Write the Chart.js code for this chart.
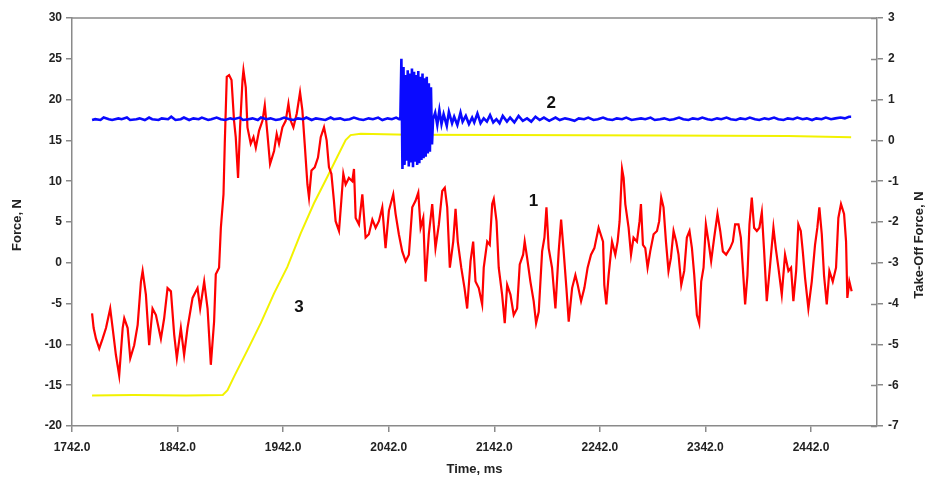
<!DOCTYPE html>
<html>
<head>
<meta charset="utf-8">
<script src="https://cdn.jsdelivr.net/npm/chart.js@4"></script>
<style>
  body { margin: 0; background: #fff; }
  #wrap { width: 929px; height: 481px; position: relative; }
</style>
</head>
<body>
<div id="wrap"><canvas id="forceChart"></canvas></div>
<script>
// Time axis ticks (ms) and axis ranges
const xTicks = [1742, 1842, 1942, 2042, 2142, 2242, 2342, 2442];
const timeRange = [1742, 2504.5];
const forceRange = [-20, 30];
const takeOffRange = [-7, 3];

// Curve 1 - force, N (left axis), [time, value]
const forceCurve = [
  [1761,-6.2],[1762.5,-8.0],[1764.7,-9.3],[1767.8,-10.5],[1771,-9.3],[1774.2,-8.0],[1778.2,-5.6],[1780.5,-8.0],
  [1783.6,-11.3],[1786.7,-13.8],[1790,-8.0],[1791.5,-6.8],[1794.7,-8.0],[1797.2,-11.7],[1800.9,-10.1],[1804.2,-7.6],
  [1807.3,-2.3],[1808.9,-1.0],[1812,-3.9],[1815.1,-10.1],[1818.3,-5.6],[1821.5,-6.4],[1826.2,-9.3],[1829.3,-6.8],
  [1832.5,-3.1],[1835.7,-3.5],[1838.8,-8.8],[1841.3,-11.7],[1845.1,-8.0],[1848.2,-11.3],[1851.4,-8.0],[1856.2,-4.3],
  [1860.9,-3.1],[1863.4,-5.6],[1867.2,-2.3],[1870.4,-5.6],[1873.5,-12.5],
  [1876.6,-7.2],[1878.2,-1.4],[1881.3,-0.6],[1883,4.3],[1885.5,8.4],[1886.7,14.6],[1888.6,22.8],[1890.8,23.0],
  [1893.1,22.4],[1895.5,17.4],[1897.1,15.4],[1899.3,10.4],[1901.2,16.6],[1903.5,22.4],[1904.4,23.6],[1906.6,21.5],
  [1908.2,16.6],[1911.3,14.6],[1913.9,15.4],[1916.1,14.1],[1919.2,16.2],[1922.4,17.4],[1924.6,19.3],[1927.1,15.8],
  [1929.6,12.1],[1933.4,13.7],[1935.9,15.8],[1938.1,14.6],[1941.3,16.6],[1944.4,17.4],[1947,19.5],[1949.2,17.4],
  [1951.7,16.6],[1954.9,18.3],[1958,20.9],[1960.2,18.7],[1962.4,14.6],[1965,9.6],[1966.5,8.0],[1968.8,11.3],
  [1971.9,11.7],[1975,12.9],[1977.6,15.4],[1980.7,16.6],[1983.2,15.0],[1985.4,11.7],[1987.7,10.9],[1990.1,7.6],
  [1991.7,5.1],[1994.9,3.9],[1997.1,7.6],[1999,10.9],[2001.2,9.6],
  [2004.3,10.4],[2007.5,10.0],[2009.1,11.5],[2010.7,5.5],[2013.8,4.7],[2017,8.4],[2020.1,3.1],[2023.2,3.5],
  [2026.5,5.3],[2029.6,4.3],[2032.7,5.1],[2035.9,6.8],[2039,1.8],[2042.2,6.4],[2046.3,8.4],[2048.5,6.0],
  [2051.6,3.5],[2054.8,1.4],[2058,0.2],[2061.1,1.0],[2064.3,6.8],[2067.4,7.6],[2070,8.6],[2072.2,4.3],
  [2074.7,5.5],[2076.9,-2.3],[2080,3.5],[2083.2,7.2],[2086.3,1.8],[2089.5,4.7],[2092.7,8.8],[2095.1,9.2],
  [2097.4,6.8],[2099.9,-0.6],[2103.1,2.6],[2105.3,6.6],[2107.4,2.6],[2110.7,-0.6],[2113.8,-3.1],[2116.3,-5.6],
  [2119.5,0.2],[2122,2.6],[2124.2,-2.3],[2127.3,-3.1],[2130.5,-5.1],[2132,-0.6],[2135.3,2.6],[2137.7,2.2],
  [2140,7.2],[2141.5,7.8],[2144.1,5.1],[2146.2,-0.6],[2149.4,-3.9],[2151.9,-7.4],[2154.2,-2.7],[2157.3,-3.9],
  [2160.4,-6.4],[2163.6,-5.6],[2166.1,-0.2],[2169.3,1.0],[2170.8,2.6],[2173.1,0.6],[2176.2,-2.3],[2179.3,-4.7],
  [2181.6,-7.4],[2184.1,-6.0],[2187.3,1.4],[2189.5,3.1],[2191.4,6.8],[2193.5,1.8],[2196.7,-0.6],[2199.9,-5.6],
  [2203,1.4],[2205.3,5.3],[2207.7,1.4],[2210.3,-3.1],[2212.5,-7.2],[2215.7,-3.1],[2218.8,-1.5],[2221,-2.7],
  [2224.2,-4.7],[2227.3,-3.1],[2230.4,-0.6],[2233.6,1.0],[2236.8,1.8],[2240.8,4.3],
  [2245,2.6],[2246.2,-2.7],[2248.1,-5.1],[2250.3,-1.5],[2253.5,2.6],[2256.6,1.0],[2258.8,2.6],[2260.7,5.1],
  [2263,11.5],[2264.5,10.4],[2266.1,7.2],[2269.2,4.3],[2271.5,1.0],[2273.9,3.1],[2277.1,2.6],[2279.6,5.1],
  [2280.9,7.2],[2282.8,2.2],[2285,1.8],[2287.2,-0.6],[2289.7,1.4],[2292.9,3.5],[2296.1,3.9],[2298.2,5.1],
  [2300.1,8.0],[2302.3,6.8],[2304.6,2.6],[2307,-1.0],[2309.3,0.6],[2311.8,3.9],[2314.3,2.6],[2316.5,1.0],
  [2319.1,-2.7],[2321.9,-1.0],[2324.4,3.1],[2326.9,3.9],[2329.2,1.8],[2331.4,-1.5],[2333.9,-6.4],[2336.1,-7.4],
  [2338,-2.3],[2340.2,-0.6],[2342.4,4.7],[2344.9,2.6],[2347.4,0.2],[2350.3,3.1],[2353.4,6.0],[2356,3.9],
  [2358.5,1.4],[2361.6,1.0],
  [2365.4,1.8],[2368,2.6],[2370.1,4.7],[2373.3,4.7],[2375.5,3.1],[2377.4,-0.6],[2379.6,-5.1],[2381.8,-1.5],
  [2383.7,4.7],[2385.9,8.0],[2388.1,4.3],[2390.7,3.9],[2393.1,4.3],[2395.4,6.2],[2397.6,1.4],[2400.1,-4.7],
  [2403.3,-0.2],[2406.4,4.3],[2408.6,1.8],[2411.1,-0.6],[2414.3,-3.9],[2417.4,1.0],[2420.6,-1.0],[2423.1,-0.6],
  [2425.3,-4.7],[2427.9,-1.0],[2430,4.7],[2432.3,3.9],[2434.2,1.4],[2436.4,-1.9],[2439.5,-5.6],[2442.7,-2.3],
  [2445.8,2.2],[2448,4.3],[2449.9,6.8],[2452.2,3.5],[2454.3,-1.5],[2456.9,-5.1],[2459.4,-1.0],[2462.6,-2.3],
  [2465.7,-0.6],[2467.9,5.5],[2470.4,7.2],[2473.3,6.0],[2475.2,2.6],[2476.4,-4.3],[2478.3,-2.3],[2480.5,-3.5]
];

// Curve 2 - force, N (left axis), [time, value]
const vibrationCurve = [
  [1761,17.5],[1764,17.6],[1769,17.5],[1772,17.8],[1777,17.6],[1780,17.5],[1786,17.7],[1789,17.6],
  [1794,17.8],[1797,17.5],[1803,17.6],[1806,17.7],[1811,17.5],[1815,17.8],[1818,17.6],[1824,17.5],
  [1827,17.7],[1833,17.6],[1836,17.9],[1840,17.5],[1845,17.6],[1848,17.8],[1853,17.5],[1857,17.7],
  [1862,17.6],[1865,17.8],[1871,17.5],[1874,17.6],[1879,17.8],[1883,17.6],[1887,17.5],[1892,17.7],
  [1895,17.6],[1901,17.8],[1904,17.5],[1909,17.6],[1913,17.7],[1918,17.5],[1921,17.8],[1926,17.6],
  [1930,17.7],[1935,17.5],[1939,17.6],[1943,17.8],[1948,17.6],[1952,17.5],[1956,17.7],[1961,17.6],
  [1964,17.8],[1969,17.5],[1973,17.7],[1978,17.6],[1982,17.5],[1987,17.8],[1990,17.6],[1996,17.7],
  [2000,17.5],[2005,17.6],[2009,17.8],[2014,17.6],[2018,17.5],[2023,17.7],[2027,17.6],[2032,17.8],
  [2036,17.5],[2041,17.7],[2045,17.6],[2049,17.8],[2052,17.6],
  [2053,17.6],[2054,25.0],[2055,11.5],[2056,24.0],[2057,12.0],[2058,23.0],[2059,12.5],[2060,23.6],
  [2061,11.8],[2062,23.2],[2063,12.3],[2064,23.8],[2065,11.7],[2066,23.4],[2067,12.4],[2068,23.0],
  [2069,12.0],[2070,23.5],[2071,12.2],[2072,22.8],[2073,12.6],[2074,23.2],[2075,12.8],[2076,22.6],
  [2077,13.0],[2078,22.8],[2079,13.4],[2080,22.0],[2081,13.6],[2082,21.5],[2083,14.5],[2084,17.6],
  [2086,18.4],[2088,16.9],[2090,18.7],[2092,17.0],[2094,18.2],[2097,16.8],[2099,18.5],[2102,17.1],
  [2104,17.9],[2107,16.9],[2110,18.4],[2112,17.3],[2115,18.0],[2118,17.0],[2121,17.8],[2123,17.2],
  [2126,18.3],[2129,17.1],[2132,17.7],[2135,17.3],[2138,18.1],[2141,17.2],[2144,17.6],[2147,17.1],
  [2150,18.0],[2154,17.3],[2157,17.8],[2161,17.2],[2165,18.0],[2169,17.4],[2173,17.7],[2177,17.3],
  [2181,17.9],[2185,17.5],[2189,17.8],[2194,17.4],[2200,17.8],
  [2204,17.5],[2209,17.7],[2213,17.6],[2218,17.4],[2222,17.7],[2227,17.6],[2231,17.8],[2236,17.5],
  [2240,17.6],[2245,17.8],[2249,17.6],[2254,17.5],[2258,17.7],[2263,17.6],[2267,17.8],[2272,17.5],
  [2276,17.6],[2281,17.7],[2285,17.6],[2290,17.8],[2294,17.5],[2299,17.6],[2303,17.7],[2308,17.5],
  [2312,17.6],[2317,17.8],[2321,17.6],[2326,17.5],[2330,17.7],[2335,17.6],[2339,17.8],[2344,17.6],
  [2348,17.5],[2353,17.7],[2357,17.6],[2362,17.8],[2366,17.6],[2371,17.5],[2375,17.7],[2380,17.6],
  [2384,17.8],[2389,17.6],[2393,17.5],[2398,17.7],[2402,17.6],[2407,17.8],[2411,17.6],[2416,17.5],
  [2420,17.7],[2425,17.6],[2429,17.8],[2434,17.6],[2438,17.7],[2443,17.5],[2447,17.7],[2452,17.6],
  [2456,17.8],[2461,17.6],[2465,17.7],[2470,17.8],[2474,17.7],[2478,17.9],[2480,17.9]
];

// Curve 3 - take-off force, N (right axis), [time, value]
const takeOffCurve = [
  [1761,-6.25],[1800,-6.24],[1850,-6.25],[1884.8,-6.24],[1889.3,-6.12],[1895.5,-5.79],[1908.2,-5.14],
  [1920.8,-4.48],[1933.4,-3.75],[1946,-3.10],[1958.6,-2.28],[1971.2,-1.54],[1983.9,-0.89],[1993.3,-0.40],
  [2001.2,0.01],[2005.9,0.13],[2015.4,0.16],[2060,0.14],[2150,0.13],[2300,0.12],[2420,0.11],[2480,0.08]
];

// Curve numbers placed on the plot
const curveNames = ['1', '2', '3'];
const curveNameTime = [2179, 2196, 1957];
const curveNameForce = [7.5, 19.5, -5.4];

const toPoints = (pairs) => pairs.map(p => ({ x: p[0], y: p[1] }));

const axisGray = '#8a8a8a';
const textColor = '#222';
const tickFont = { family: 'Liberation Sans, Arial, sans-serif', size: 12, weight: 'bold' };

const overlay = {
  id: 'overlay',
  afterDraw(chart) {
    const { ctx, chartArea: a, scales } = chart;
    ctx.save();
    // top frame line and inner ticks of the right axis
    ctx.strokeStyle = axisGray;
    ctx.lineWidth = 1.5;
    ctx.beginPath();
    ctx.moveTo(a.left, a.top);
    ctx.lineTo(a.right, a.top);
    scales.y1.ticks.forEach(t => {
      const y = Math.round(scales.y1.getPixelForValue(t.value)) + 0.5;
      ctx.moveTo(a.right - 6, y);
      ctx.lineTo(a.right, y);
    });
    ctx.stroke();

    // curve numbers
    ctx.fillStyle = '#111';
    ctx.font = 'bold 17px "Liberation Sans", Arial, sans-serif';
    ctx.textAlign = 'center';
    ctx.textBaseline = 'middle';
    curveNames.forEach((n, i) => {
      ctx.fillText(n, scales.x.getPixelForValue(curveNameTime[i]), scales.y.getPixelForValue(curveNameForce[i]));
    });

    // axis titles
    ctx.fillStyle = textColor;
    ctx.font = 'bold 13px "Liberation Sans", Arial, sans-serif';
    ctx.fillText('Time, ms', (a.left + a.right) / 2, 469);
    ctx.save();
    ctx.translate(17, 225);
    ctx.rotate(-Math.PI / 2);
    ctx.fillText('Force, N', 0, 0);
    ctx.restore();
    ctx.save();
    ctx.translate(919, 245);
    ctx.rotate(-Math.PI / 2);
    ctx.fillText('Take-Off Force, N', 0, 0);
    ctx.restore();
    ctx.restore();
  }
};

new Chart(document.getElementById('forceChart'), {
  type: 'line',
  data: {
    datasets: [
      { label: '2', data: toPoints(vibrationCurve), borderColor: '#0a0aff', borderWidth: 2.6, yAxisID: 'y', order: 1 },
      { label: '1', data: toPoints(forceCurve), borderColor: '#ff0000', borderWidth: 2.2, yAxisID: 'y', order: 2 },
      { label: '3', data: toPoints(takeOffCurve), borderColor: '#f2f200', borderWidth: 2, yAxisID: 'y1', order: 3 }
    ]
  },
  options: {
    responsive: true,
    maintainAspectRatio: false,
    animation: false,
    devicePixelRatio: 1,
    layout: { padding: { top: 18, left: 0, right: 0, bottom: 0 } },
    elements: { point: { radius: 0 }, line: { tension: 0 } },
    plugins: { legend: { display: false }, tooltip: { enabled: false } },
    scales: {
      x: {
        type: 'linear',
        min: timeRange[0],
        max: timeRange[1],
        afterBuildTicks: (scale) => { scale.ticks = xTicks.map(v => ({ value: v })); },
        afterFit: (scale) => { scale.height = 55; },
        grid: { drawOnChartArea: false, tickLength: 6, color: axisGray, lineWidth: 1.5 },
        border: { color: axisGray, width: 1.5 },
        ticks: { color: textColor, font: tickFont, padding: 8, maxRotation: 0, callback: (v) => Number(v).toFixed(1) }
      },
      y: {
        position: 'left',
        min: forceRange[0],
        max: forceRange[1],
        afterFit: (scale) => { scale.width = 72; },
        grid: { drawOnChartArea: false, tickLength: 6, color: axisGray, lineWidth: 1.5 },
        border: { color: axisGray, width: 1.5 },
        ticks: { stepSize: 5, color: textColor, font: tickFont, padding: 4 }
      },
      y1: {
        position: 'right',
        min: takeOffRange[0],
        max: takeOffRange[1],
        afterFit: (scale) => { scale.width = 52; },
        grid: { drawOnChartArea: false, tickLength: 6, color: axisGray, lineWidth: 1.5 },
        border: { color: axisGray, width: 1.5 },
        ticks: { stepSize: 1, color: textColor, font: tickFont, padding: 5 }
      }
    }
  },
  plugins: [overlay]
});
</script>
</body>
</html>
